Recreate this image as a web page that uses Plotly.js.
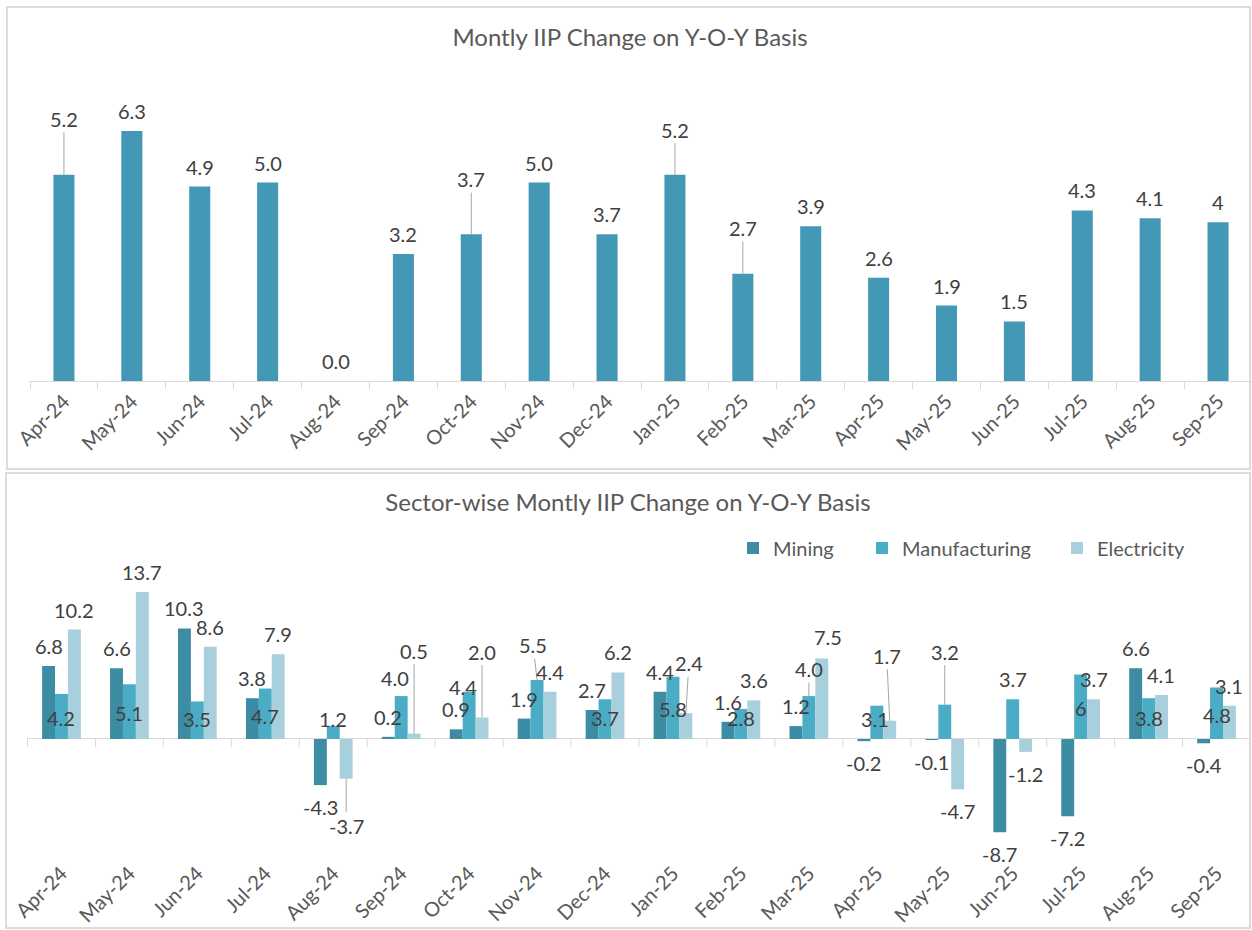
<!DOCTYPE html>
<html>
<head>
<meta charset="utf-8">
<script src="https://cdn.plot.ly/plotly-3.0.1.min.js"></script>
<style>
  html, body { margin:0; padding:0; background:#ffffff; width:1252px; height:930px; overflow:hidden; }
  #top { position:absolute; left:0; top:0; width:1252px; height:468px; }
  #bottom { position:absolute; left:0; top:470px; width:1252px; height:460px; }
  .box { position:absolute; box-sizing:border-box; border:2px solid #dcdcdc; pointer-events:none; }
  #box1 { left:6px; top:6px; width:1245px; height:464px; }
  #box2 { left:5px; top:472px; width:1246px; height:457px; }
</style>
</head>
<body>
<div id="top"></div>
<div id="bottom"></div>
<div id="box1" class="box"></div>
<div id="box2" class="box"></div>
<script>
// ---------------- DATA ----------------
const months = ['Apr-24','May-24','Jun-24','Jul-24','Aug-24','Sep-24','Oct-24','Nov-24','Dec-24',
                'Jan-25','Feb-25','Mar-25','Apr-25','May-25','Jun-25','Jul-25','Aug-25','Sep-25'];

const iipValues = [5.2, 6.3, 4.9, 5.0, 0.0, 3.2, 3.7, 5.0, 3.7, 5.2, 2.7, 3.9, 2.6, 1.9, 1.5, 4.3, 4.1, 4.0];
const iipLabels = ['5.2','6.3','4.9','5.0','0.0','3.2','3.7','5.0','3.7','5.2','2.7','3.9','2.6','1.9','1.5','4.3','4.1','4'];

const mining        = [6.8, 6.6, 10.3, 3.8, -4.3, 0.2, 0.9, 1.9, 2.7, 4.4, 1.6, 1.2, -0.2, -0.1, -8.7, -7.2, 6.6, -0.4];
const manufacturing = [4.2, 5.1, 3.5, 4.7, 1.2, 4.0, 4.4, 5.5, 3.7, 5.8, 2.8, 4.0, 3.1, 3.2, 3.7, 6.0, 3.8, 4.8];
const electricity   = [10.2, 13.7, 8.6, 7.9, -3.7, 0.5, 2.0, 4.4, 6.2, 2.4, 3.6, 7.5, 1.7, -4.7, -1.2, 3.7, 4.1, 3.1];

const miningLabels        = ['6.8','6.6','10.3','3.8','-4.3','0.2','0.9','1.9','2.7','4.4','1.6','1.2','-0.2','-0.1','-8.7','-7.2','6.6','-0.4'];
const manufacturingLabels = ['4.2','5.1','3.5','4.7','1.2','4.0','4.4','5.5','3.7','5.8','2.8','4.0','3.1','3.2','3.7','6','3.8','4.8'];
const electricityLabels   = ['10.2','13.7','8.6','7.9','-3.7','0.5','2.0','4.4','6.2','2.4','3.6','7.5','1.7','-4.7','-1.2','3.7','4.1','3.1'];

const seriesNames = ['Mining','Manufacturing','Electricity'];

// ---------------- STYLE ----------------
const FONT = 'Lato, "Open Sans", sans-serif';
const labelFont = {family: FONT, size: 20, color: '#404040'};
const tickFont = {family: FONT, size: 20, color: '#595959'};
const titleFont = {family: FONT, size: 24, color: '#595959'};
const legendFont = {family: FONT, size: 20, color: '#595959'};
const leaderColor = '#a6a6a6';

// label placement tweaks (pixel offsets of label centre; null = default outside)
const topLabelPos = [ {dy:-56, lead:true}, null, null, null, null, null, {dy:-55, lead:true}, null, null,
                      {dy:-45, lead:true}, {dy:-46, lead:true}, null, null, null, null, null, null, null ];
const miningPos = months.map(() => null);
const manufacturingPos = [
  {base:true, dy:-21}, {base:true, dy:-26}, {base:true, dy:-20}, {base:true, dy:-23}, {base:true, dy:-20},
  {dx:-6, dy:-18}, {dx:-6, dy:-5}, {dx:-4, dy:-35, lead:true}, {base:true, dy:-21}, {base:true, dy:-30},
  {base:true, dy:-21}, {dy:-27, lead:true}, {base:true, dx:-2, dy:-20}, {dy:-53, lead:true}, null,
  {base:true, dy:-31}, {base:true, dy:-21}, {base:true, dy:-24}
];
const electricityPos = [
  null, null, null, null, {dy:47, lead:true}, {dy:-83, lead:true}, {dy:-66, lead:true}, null, null,
  {dx:3, dy:-50, lead:true}, null, {dx:6, dy:-22}, {dx:-3, dy:-65, lead:true}, null, null, null, null, null
];

function makeLabel(x, v, text, spec, xref, yref) {
  const s = spec || {};
  const dx = s.dx || 0;
  const dy = (s.dy !== undefined) ? s.dy : (v >= 0 ? -20 : 22);
  const y = s.base ? 0 : v;
  if (s.lead) {
    return {x: x, y: y, xref: xref, yref: yref, text: text, font: labelFont,
            showarrow: true, arrowhead: 0, arrowwidth: 1, arrowcolor: leaderColor,
            standoff: 0, startstandoff: 0, ax: dx, ay: dy};
  }
  return {x: x, y: y, xref: xref, yref: yref, text: text, font: labelFont,
          showarrow: false, xshift: dx, yshift: -dy};
}

// ---------------- TOP CHART ----------------
const topAnn = months.map((m, i) => makeLabel(i, iipValues[i], iipLabels[i], topLabelPos[i], 'x', 'y'));

Plotly.newPlot('top', [{
  type: 'bar', x: months, y: iipValues, hoverinfo: 'skip',
  marker: {color: '#4398b5', line: {width: 0}}
}], {
  width: 1252, height: 468,
  margin: {l: 30, r: 0, t: 60, b: 87},
  paper_bgcolor: 'rgba(0,0,0,0)', plot_bgcolor: 'rgba(0,0,0,0)',
  font: {family: FONT, color: '#595959'},
  showlegend: false,
  bargap: 0.69,
  title: {text: 'Montly IIP Change on Y-O-Y Basis', font: titleFont,
          xref: 'container', x: 630/1252, xanchor: 'center',
          yref: 'container', y: 1 - 38/468, yanchor: 'middle'},
  xaxis: {type: 'category', tickangle: -45, tickfont: tickFont,
          showline: true, linecolor: '#d9d9d9', linewidth: 1,
          ticks: 'outside', tickson: 'boundaries', ticklen: 7, tickcolor: '#d9d9d9',
          showgrid: false, zeroline: false, fixedrange: true},
  yaxis: {range: [0, 8.09], visible: false, showgrid: false, zeroline: false, fixedrange: true},
  annotations: topAnn
}, {staticPlot: true});

// ---------------- BOTTOM CHART ----------------
const bargap2 = 0.43;
const w = (1 - bargap2) / 3;
const offs = [-w, 0, w];
const sVals = [mining, manufacturing, electricity];
const sLabs = [miningLabels, manufacturingLabels, electricityLabels];
const sPos = [miningPos, manufacturingPos, electricityPos];
const sColors = ['#3c8ca3', '#4bacc6', '#a8cfdc'];
const legendIds = ['legend', 'legend2', 'legend3'];
const legendX = [0.5768, 0.6822, 0.8415];

const botAnn = [];
sVals.forEach((vals, k) => {
  vals.forEach((v, i) => botAnn.push(makeLabel(i + offs[k], v, sLabs[k][i], sPos[k][i], 'x', 'y')));
});

// category boundary tick marks on the zero line
const tickShapes = [];
for (let i = 0; i <= months.length; i++) {
  tickShapes.push({type: 'line', xref: 'x', yref: 'y', x0: i - 0.5, x1: i - 0.5,
                   ysizemode: 'pixel', yanchor: 0, y0: 0, y1: -8,
                   line: {color: '#d9d9d9', width: 1}});
}

const botTraces = sVals.map((vals, k) => ({
  type: 'bar', name: seriesNames[k], x: months, y: vals, hoverinfo: 'skip',
  legend: legendIds[k],
  marker: {color: sColors[k], line: {width: 0}}
}));

const botLayout = {
  width: 1252, height: 460,
  margin: {l: 27, r: 1, t: 100, b: 73},
  paper_bgcolor: 'rgba(0,0,0,0)', plot_bgcolor: 'rgba(0,0,0,0)',
  font: {family: FONT, color: '#595959'},
  barmode: 'group', bargap: bargap2, bargroupgap: 0,
  title: {text: 'Sector-wise Montly IIP Change on Y-O-Y Basis', font: titleFont,
          xref: 'container', x: 628/1252, xanchor: 'center',
          yref: 'container', y: 1 - 33/460, yanchor: 'middle'},
  showlegend: true,
  xaxis: {type: 'category', tickangle: -45, tickfont: tickFont,
          showline: false, ticks: '', showgrid: false, zeroline: false, fixedrange: true},
  yaxis: {range: [-11.0, 15.75], showticklabels: false, showgrid: false, ticks: '',
          zeroline: true, zerolinecolor: '#d9d9d9', zerolinewidth: 1, fixedrange: true},
  shapes: tickShapes,
  annotations: botAnn
};
legendIds.forEach((id, k) => {
  botLayout[id] = {orientation: 'h', x: legendX[k], xanchor: 'left', y: 1.077, yanchor: 'middle',
                   font: legendFont, bgcolor: 'rgba(0,0,0,0)'};
});

Plotly.newPlot('bottom', botTraces, botLayout, {staticPlot: true});
</script>
</body>
</html>
